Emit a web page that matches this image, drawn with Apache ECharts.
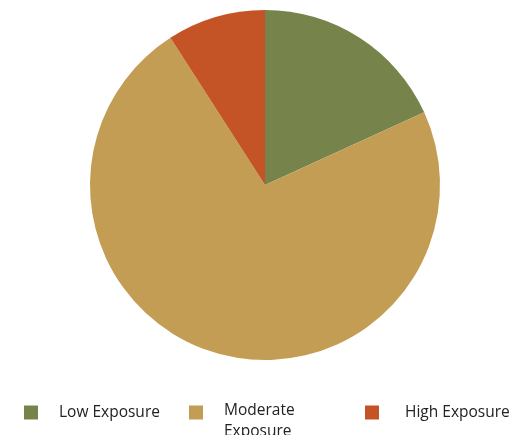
<!DOCTYPE html>
<html>
<head>
<meta charset="utf-8">
<script src="https://cdn.jsdelivr.net/npm/echarts@6/dist/echarts.min.js"></script>
<style>
  html, body { margin: 0; padding: 0; background: #fff; }
  #chart { width: 510px; height: 435px; }
</style>
</head>
<body>
<div id="chart"></div>
<script>
  var categories = ['Low Exposure', 'Moderate Exposure', 'High Exposure'];
  var values = [2, 8, 1];
  var colors = ['#76844c', '#c49d54', '#c45325'];
  var legendLeft = [24, 189, 365];
  var textGap = [16, 16, 21];

  var chart = echarts.init(document.getElementById('chart'));

  var pieData = categories.map(function (name, i) {
    return { name: name, value: values[i], itemStyle: { color: colors[i] } };
  });

  // one legend per item so each can sit where the reference puts it;
  // the wrapped one gets a tall icon box with the square at its top,
  // so the swatch lines up with the first text line
  var legends = categories.map(function (name, i) {
    var wrap = name === 'Moderate Exposure';
    return {
      data: [name],
      left: legendLeft[i],
      top: wrap ? 400 : 402,
      padding: 0,
      icon: wrap ? 'path://M0,0H14V14H0Z M0,31L0,31' : 'rect',
      itemWidth: 14,
      itemHeight: wrap ? 31 : 14,
      selectedMode: false,
      textStyle: {
        fontFamily: 'Open Sans',
        fontSize: 15.5,
        color: '#222',
        lineHeight: 21,
        padding: [0, 0, 0, textGap[i]],
        width: wrap ? 100 : null,
        overflow: wrap ? 'break' : 'none'
      }
    };
  });

  var option = {
    animation: false,
    legend: legends,
    series: [{
      type: 'pie',
      center: [265, 185],
      radius: 175,
      startAngle: 90,
      clockwise: true,
      label: { show: false },
      labelLine: { show: false },
      emphasis: { disabled: true },
      itemStyle: { borderWidth: 0 },
      data: pieData
    }]
  };

  chart.setOption(option);
</script>
</body>
</html>
